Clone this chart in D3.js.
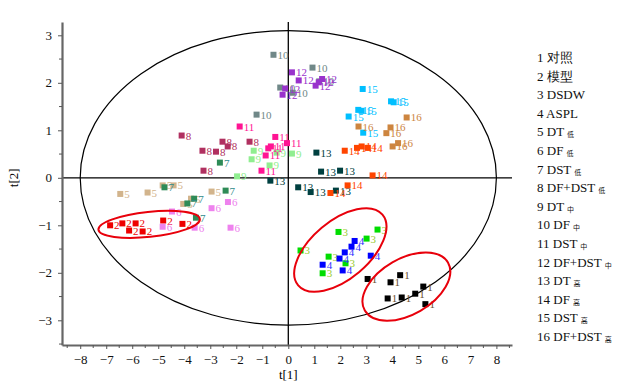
<!DOCTYPE html>
<html>
<head>
<meta charset="utf-8">
<script src="https://cdn.jsdelivr.net/npm/d3@7"></script>
<style>
body { margin:0; background:#fff; }
text { font-family:"Liberation Serif","DejaVu Serif",serif; }
</style>
</head>
<body>
<script>
// t[1], t[2] scores, one array per group
var grp1 = [[3.05,-2.13],[4.30,-2.05],[3.93,-2.20],[5.19,-2.29],[4.88,-2.44],[3.82,-2.54],[4.36,-2.52],[5.27,-2.66]]
var grp2 = [[-6.85,-1.00],[-6.38,-0.96],[-5.87,-0.96],[-6.12,-1.11],[-5.60,-1.13],[-4.81,-0.90],[-4.07,-0.97]]
var grp3 = [[1.93,-1.14],[3.43,-1.09],[3.01,-1.28],[0.47,-1.53],[1.55,-1.66],[2.20,-1.80],[1.32,-2.01]]
var grp4 = [[2.55,-1.33],[2.43,-1.45],[2.17,-1.57],[1.97,-1.70],[1.32,-1.83],[2.09,-1.95],[3.17,-1.64]]
var grp5 = [[-6.46,-0.34],[-5.41,-0.31],[-4.83,-0.16],[-4.41,-0.16],[-2.95,-0.29],[-3.74,-0.44],[-4.04,-0.55]]
var grp6 = [[-4.47,-0.71],[-2.95,-0.64],[-2.32,-0.51],[-4.83,-1.03],[-3.60,-1.05],[-2.22,-1.05]]
var grp7 = [[-4.76,-0.20],[-3.62,-0.44],[-3.88,-0.54],[-2.41,-0.27],[-3.55,-0.84],[-2.63,0.32]]
var grp8 = [[-4.10,0.89],[-2.53,0.76],[-2.33,0.66],[-1.49,0.76],[-3.30,0.57],[-2.78,0.55],[-3.26,0.15]]
var grp9 = [[-1.33,0.57],[-1.41,0.39],[-0.72,0.26],[-1.97,0.03],[0.14,0.51],[-0.45,0.53]]
var grp10 = [[-0.57,2.59],[0.93,2.32],[-0.31,1.90],[0.17,1.79],[-1.22,1.33],[1.19,2.03]]
var grp11 = [[-1.87,1.08],[-0.50,0.86],[-0.05,0.73],[-0.67,0.66],[-0.77,0.62],[-0.87,0.47],[-1.03,0.15]]
var grp12 = [[0.14,2.22],[0.40,2.05],[1.30,2.08],[1.17,2.01],[1.05,1.94],[-0.12,1.88],[-0.22,1.75]]
var grp13 = [[1.08,0.53],[1.26,0.13],[1.99,0.15],[-0.69,-0.06],[0.38,-0.20],[0.86,-0.30],[1.83,-0.27]]
var grp14 = [[2.17,0.57],[2.64,0.63],[2.82,0.66],[3.05,0.63],[3.24,0.05],[2.28,-0.16],[1.62,-0.32]]
var grp15 = [[2.86,1.87],[3.95,1.61],[4.05,1.59],[2.69,1.43],[2.82,1.41],[2.32,1.29],[2.88,0.95]]
var grp16 = [[4.55,1.27],[2.70,1.08],[3.93,1.06],[3.77,0.94],[4.22,0.73],[4.01,0.66]]
var groups = [grp1,grp2,grp3,grp4,grp5,grp6,grp7,grp8,grp9,grp10,grp11,grp12,grp13,grp14,grp15,grp16]

var legendNames = ["对照","模型","DSDW","ASPL","DT","DF","DST","DF+DST","DT","DF","DST","DF+DST","DT","DF","DST","DF+DST"]
var legendSub = ["","","","","低","低","低","低","中","中","中","中","高","高","高","高"]

var xTicks = [-8,-7,-6,-5,-4,-3,-2,-1,0,1,2,3,4,5,6,7,8]
var yTicks = [-3,-2,-1,0,1,2,3]

var markColor = ["#000000","#ee0000","#00dd00","#0000ff","#d2b48c","#ee82ee","#2e8b57","#b03060",
  "#90ee90","#708888","#ff1493","#9932cc","#004040","#ff4500","#00bfff","#cd853f"]
var textColor = ["#6b5030","#ee0000","#99cc33","#3333ff","#d2b48c","#ee82ee","#2e8b8b","#b03060",
  "#90ee90","#708888","#ff1493","#9932cc","#004040","#ff4500","#00bfff","#cd853f"]

var svg = d3.select("body").append("svg").attr("width",620).attr("height",387)

var x = d3.scaleLinear().domain([-8.7,8.6]).range([62,512])
var y = d3.scaleLinear().domain([-3.52,3.28]).range([345,22])

// Hotelling ellipse
svg.append("ellipse")
  .attr("cx",x(0)).attr("cy",y(0))
  .attr("rx",x(8.0)-x(0)).attr("ry",y(0)-y(3.1))
  .attr("fill","none").attr("stroke","#000").attr("stroke-width",1.2)

// zero lines
svg.append("line").attr("x1",62).attr("x2",512).attr("y1",y(0)).attr("y2",y(0))
  .attr("stroke","#000").attr("stroke-width",1.3)
svg.append("line").attr("x1",x(0)).attr("x2",x(0)).attr("y1",22).attr("y2",345)
  .attr("stroke","#000").attr("stroke-width",1.3)

// axes
var fmt = d3.format("d")
var minorX = d3.range(-8.5,8.6,1)
var minorY = d3.range(-3.5,3.3,1)
var ax = svg.append("g").attr("transform","translate(0,345)")
  .call(d3.axisBottom(x).tickValues(xTicks).tickFormat(fmt).tickSize(4).tickPadding(6).tickSizeOuter(0))
var ay = svg.append("g").attr("transform","translate(62,0)")
  .call(d3.axisLeft(y).tickValues(yTicks).tickFormat(fmt).tickSize(4).tickPadding(6).tickSizeOuter(0))
ax.selectAll(".minor").data(minorX).enter().append("line").attr("class","minor")
  .attr("x1",d=>x(d)).attr("x2",d=>x(d)).attr("y1",0).attr("y2",3).attr("stroke","#555")
ay.selectAll(".minor").data(minorY).enter().append("line").attr("class","minor")
  .attr("y1",d=>y(d)).attr("y2",d=>y(d)).attr("x1",0).attr("x2",-3).attr("stroke","#555")
ax.attr("font-family","Liberation Serif").attr("font-size",13)
ay.attr("font-family","Liberation Serif").attr("font-size",13)
svg.selectAll(".domain").attr("stroke","#666").attr("stroke-width",2.2)
svg.selectAll(".tick line").attr("stroke","#555")
svg.selectAll(".tick text").attr("fill","#111")

svg.append("text").attr("x",x(0)).attr("y",379).attr("text-anchor","middle")
  .attr("font-size",13).text("t[1]")
svg.append("text").attr("transform","translate(18,"+y(0)+") rotate(-90)")
  .attr("text-anchor","middle").attr("font-size",13).text("t[2]")

// points
groups.forEach(function(g,i){
  var pg = svg.append("g")
  pg.selectAll("rect").data(g).enter().append("rect")
    .attr("x",d=>x(d[0])-3).attr("y",d=>y(d[1])-3)
    .attr("width",6).attr("height",6).attr("fill",markColor[i])
  pg.selectAll("text").data(g).enter().append("text")
    .attr("x",d=>x(d[0])+4).attr("y",d=>y(d[1])+4)
    .attr("font-size",11).attr("fill",textColor[i]).text(i+1)
})

// red group ellipses: centre in data units, radii in px, rotation in degrees
var ringCx = [-5.35, 2.0, 4.54]
var ringCy = [-0.98, -1.52, -2.29]
var ringA = [51, 55, 48]
var ringB = [12.5, 29, 28]
var ringRot = [-6, -40, -30]
ringCx.forEach(function(c,i){
  svg.append("ellipse")
    .attr("transform","translate("+x(c)+","+y(ringCy[i])+") rotate("+ringRot[i]+")")
    .attr("rx",ringA[i]).attr("ry",ringB[i])
    .attr("fill","none").attr("stroke","#e8000b").attr("stroke-width",2)
})

// legend
var lg = svg.append("g").attr("transform","translate(537,0)")
legendNames.forEach(function(n,i){
  var t = lg.append("text").attr("x",0).attr("y",62+i*18.6)
    .attr("font-size",13).attr("fill","#111")
    .attr("font-family","'Liberation Serif','Noto Sans CJK SC',serif")
  t.append("tspan").text((i+1)+" "+n)
  if(legendSub[i]){
    t.append("tspan").attr("dx",3).attr("dy",1).attr("font-size",7)
      .attr("font-family","'Noto Sans CJK SC'").text(legendSub[i])
  }
})
</script>
</body>
</html>
